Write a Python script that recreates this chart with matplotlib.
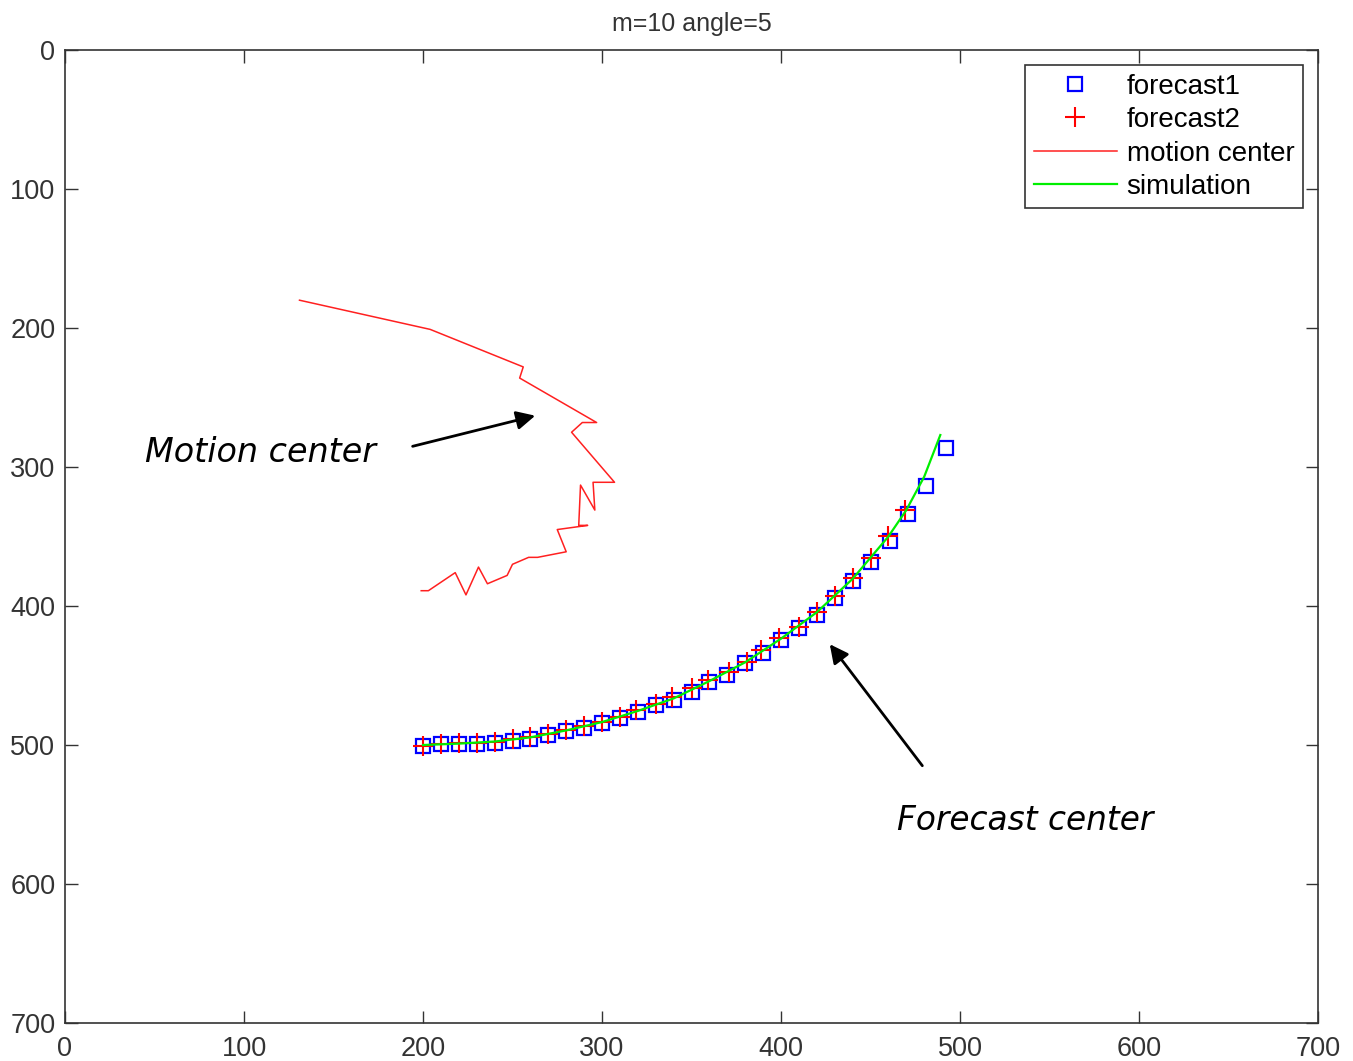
import matplotlib
matplotlib.use("Agg")
import matplotlib.pyplot as plt

# ---- data ----
motion_x = [131, 204, 256, 254, 297, 289, 283, 307, 295, 296, 288, 287, 292, 275, 280,
            264, 259, 250, 247, 236, 231, 224, 218, 203, 199]
motion_y = [180, 201, 228, 236, 268, 268, 275, 311, 311, 331, 313, 342, 342, 345, 361,
            365, 365, 370, 378, 384, 372, 392, 376, 389, 389]

f1_x = [200, 210, 220, 230, 240, 250, 260, 270, 280, 290, 300, 310, 320, 330, 340,
        350, 360, 370, 380, 390, 400, 410, 420, 430, 440, 450, 461, 471, 481, 492]
f1_y = [500.7, 499.5, 499.0, 499.0, 498.3, 497.3, 495.5, 492.8, 490.2, 487.6, 484.4,
        480.4, 476.1, 471.5, 467.6, 461.6, 454.5, 449.6, 441.3, 434.1, 424.5, 416.1,
        406.5, 394.5, 381.8, 368.6, 353.0, 333.8, 313.7, 286.1]

f2_x = [200, 210, 220, 230, 240, 250, 260, 270, 280, 290, 300, 310, 319, 330, 339,
        350, 359, 371, 381, 389, 399, 410, 420, 430, 440, 450, 460, 469]
f2_y = [500.7, 499.5, 498.8, 498.3, 497.6, 496.0, 494.4, 492.0, 489.1, 486.3, 483.2,
        479.6, 474.8, 470.5, 465.7, 459.3, 453.2, 447.2, 440.0, 431.7, 423.2, 415.0,
        404.1, 392.6, 380.1, 365.7, 349.6, 330.9]

sim_x = [200, 220, 240, 260, 280, 300, 320, 340, 360, 380, 400, 420, 440, 460, 470, 480, 489]
sim_y = [500, 499, 497.5, 494.5, 489.5, 483.5, 475.5, 466.5, 454, 440.5, 423.5, 404.5,
         380.5, 350, 331, 307, 277]

ticks = [0, 100, 200, 300, 400, 500, 600, 700]
title = "m=10 angle=5"
legend_labels = ["forecast1", "forecast2", "motion center", "simulation"]

plt.rcParams['font.family'] = ['Liberation Sans', 'DejaVu Sans']

fig = plt.figure(figsize=(13.53, 10.61), dpi=100)
ax = fig.add_axes([65/1353, 1-1023/1061, (1318-65)/1353, (1023-50)/1061])

ax.plot(f1_x, f1_y, linestyle='none', marker='s', markersize=10.5, markerfacecolor='none',
        markeredgecolor='#0000ff', markeredgewidth=1.6, label=legend_labels[0])
ax.plot(f2_x, f2_y, linestyle='none', marker='+', markersize=15, color='#ff0000',
        markeredgewidth=1.5, label=legend_labels[1])
ax.plot(motion_x, motion_y, color='#ff2020', lw=1.1, label=legend_labels[2])
ax.plot(sim_x, sim_y, color='#00ee00', lw=1.6, label=legend_labels[3])

ax.set_xlim(0, 700)
ax.set_ylim(700, 0)
ax.set_xticks(ticks)
ax.set_yticks(ticks)
ax.tick_params(direction='in', length=9, width=1, top=True, right=True,
               labelsize=19.5, labelcolor='#333333', color='#333333')
ax.tick_params(axis='x', pad=9)
ax.tick_params(axis='y', pad=7)
for s in ax.spines.values():
    s.set_color('#333333')
    s.set_linewidth(1.2)

ax.set_title(title, fontsize=18, color='#333333', pad=14)

leg = ax.legend(loc='upper right', fontsize=20, frameon=True, fancybox=False,
                edgecolor='black', handlelength=3.0, handletextpad=0.35,
                labelspacing=0.27, borderpad=0.3, borderaxespad=0.55)
leg.get_frame().set_linewidth(1.2)

ax.text(44.7, 296.4, "Motion center", fontsize=24, style='italic', family='DejaVu Sans',
        ha='left', va='baseline')
ax.text(464.8, 561, "Forecast center", fontsize=23.6, style='italic', family='DejaVu Sans',
        ha='left', va='baseline')

ax.annotate('', xy=(264.2, 262.6), xytext=(192.7, 285.6),
            arrowprops=dict(arrowstyle='-|>', color='black', lw=2, mutation_scale=28))
ax.annotate('', xy=(426.3, 425.9), xytext=(479.9, 516.5),
            arrowprops=dict(arrowstyle='-|>', color='black', lw=2, mutation_scale=28))

fig.savefig("out.png", dpi=100)
